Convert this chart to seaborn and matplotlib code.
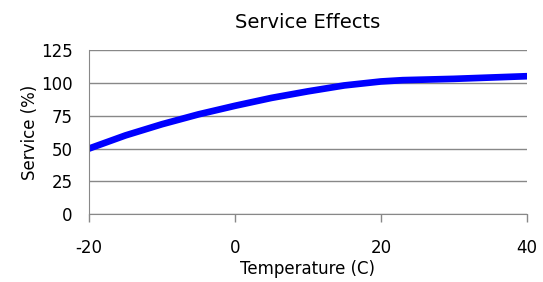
import matplotlib
matplotlib.use("Agg")
import matplotlib.pyplot as plt
import seaborn as sns
import pandas as pd

# values
temperature = [-20, -15, -10, -5, 0, 5, 10, 15, 20, 23, 30, 35, 40]
service = [50, 60, 68.5, 76, 82.5, 88.5, 93.5, 98, 101, 102, 103, 104, 105]
yticks = [0, 25, 50, 75, 100, 125]
xticks = [-20, 0, 20, 40]

df = pd.DataFrame({"Temperature (C)": temperature, "Service (%)": service})

sns.set_style("white")
plt.rcParams["font.family"] = ["DejaVu Sans"]
plt.rcParams["axes.unicode_minus"] = False
plt.rcParams["text.color"] = "black"
plt.rcParams["xtick.color"] = "#888888"
plt.rcParams["xtick.labelcolor"] = "black"
plt.rcParams["ytick.labelcolor"] = "black"
plt.rcParams["axes.labelcolor"] = "black"

fig, ax = plt.subplots(figsize=(5.43, 2.82), dpi=100)
sns.lineplot(data=df, x="Temperature (C)", y="Service (%)", ax=ax,
             color="#0000ff", linewidth=4.8, solid_capstyle="round")

ax.set_xlim(-20, 40)
ax.set_ylim(0, 125)
ax.set_xticks(xticks)
ax.set_yticks(yticks)
ax.yaxis.grid(True, color="#888888", linewidth=1)
for s in ["top", "right"]:
    ax.spines[s].set_visible(False)
for s in ["left", "bottom"]:
    ax.spines[s].set_color("#888888")
ax.tick_params(axis="x", bottom=True, length=6, width=1, direction="out",
               labelsize=12, pad=12)
ax.tick_params(axis="y", length=0, labelsize=12, pad=12)
ax.set_title("Service Effects", fontsize=14, pad=16)
ax.set_xlabel("Temperature (C)", fontsize=12, labelpad=2)
ax.set_ylabel("Service (%)", fontsize=12, labelpad=1)

fig.subplots_adjust(left=0.164, right=0.97, top=0.823, bottom=0.24)
fig.savefig("out.png", dpi=100)
